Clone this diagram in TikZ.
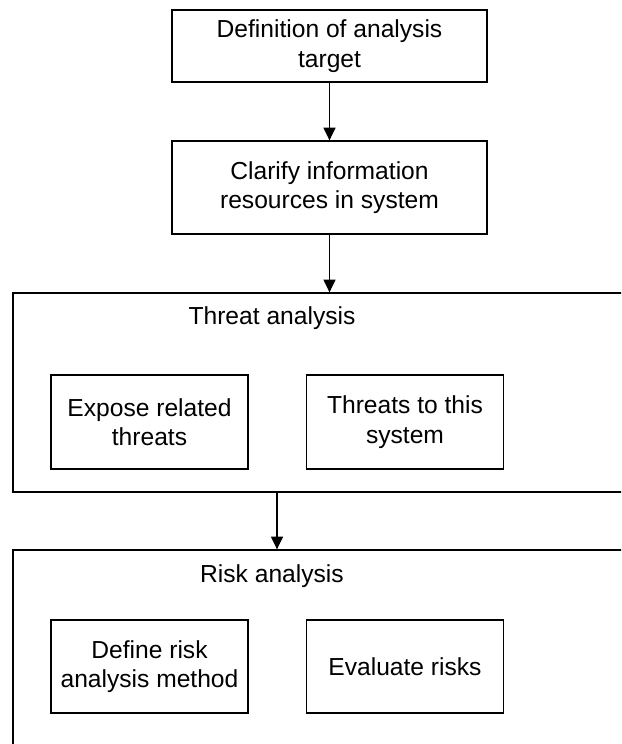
\documentclass[tikz,border=0pt]{standalone}
\usepackage{fontspec}
\setmainfont{Liberation Sans}
\usetikzlibrary{arrows.meta}

\tikzset{
  box/.style={draw, line width=0.9pt, align=center, inner sep=0pt,
    font=\fontsize{17.5}{21}\selectfont},
  frame/.style={draw, line width=0.9pt, inner sep=0pt},
  title/.style={font=\fontsize{17.5}{21}\selectfont, inner sep=0pt},
  arr/.style={-{Triangle[length=9pt, width=8.5pt]}, line width=0.9pt}
}

\begin{document}
\begin{tikzpicture}[x=0.025cm, y=-0.025cm]
    % 1. Picture area
    \useasboundingbox (0, 0) rectangle (621, 744);
    \clip (0, 0) rectangle (621, 744);

    % 2. Top steps
    \node[box, minimum width=7.875cm, minimum height=1.8cm] (D) at (329.5, 46)
        {Definition of analysis\\target};
    \node[box, minimum width=7.875cm, minimum height=2.325cm] (C) at (329.5, 187.5)
        {Clarify information\\resources in system};

    % 3. Threat analysis block
    \node[frame, minimum width=17.5cm, minimum height=4.975cm] (T) at (363, 392.5) {};
    \node[title] (Tt) at (272, 318) {Threat analysis};
    \node[box, minimum width=4.925cm, minimum height=2.35cm] (E) at (149.5, 422)
        {Expose related\\threats};
    \node[box, minimum width=4.925cm, minimum height=2.35cm] (S) at (405, 422)
        {Threats to this\\system};

    % 4. Risk analysis block
    \node[frame, minimum width=17.5cm, minimum height=6.25cm] (R) at (363, 675) {};
    \node[title] (Rt) at (272, 576) {Risk analysis};
    \node[box, minimum width=4.925cm, minimum height=2.325cm] (M) at (149.5, 666.5)
        {Define risk\\analysis method};
    \node[box, minimum width=4.925cm, minimum height=2.325cm] (V) at (405, 666.5)
        {Evaluate risks};

    % 5. Arrows
    \coordinate (m) at (277, 0);
    \draw[arr] (D) -- (C);
    \draw[arr] (C) -- (T.north -| C);
    \draw[arr] (T.south -| m) -- (R.north -| m);
\end{tikzpicture}
\end{document}
